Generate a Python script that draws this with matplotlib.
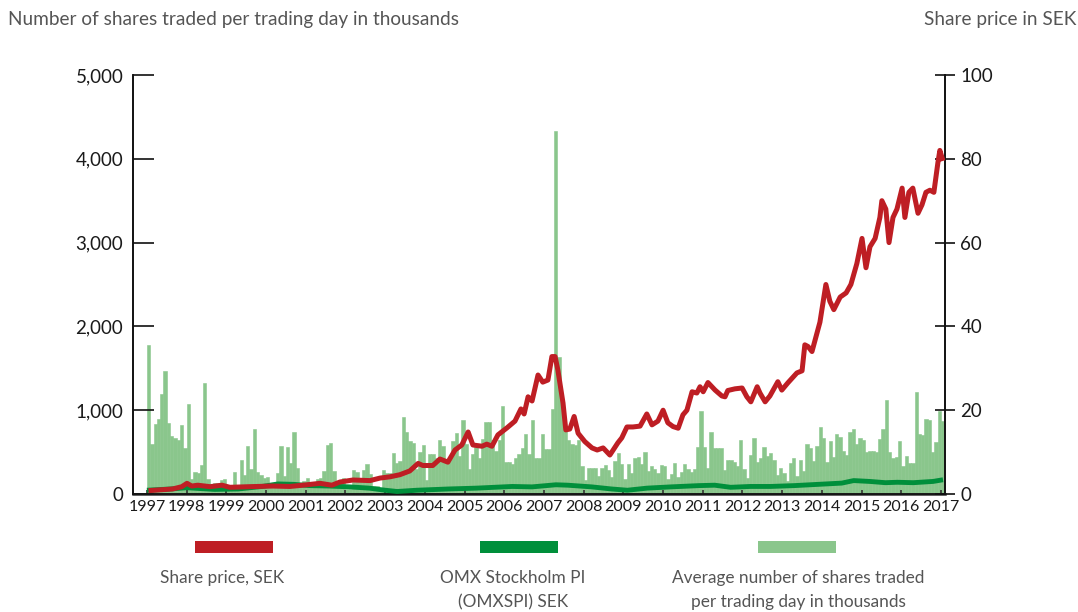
import matplotlib
matplotlib.use('Agg')
import matplotlib.pyplot as plt
import numpy as np
from matplotlib.patches import Rectangle

# ---------------- data ----------------
# Average number of shares traded per trading day (thousands), monthly from Jan 1997
volume = [
    1780, 597, 835, 895, 1193, 1467, 847, 692, 668, 648, 823, 549,
    1074, 179, 262, 250, 346, 1324, 179, 80, 131, 131, 167, 179,
    80, 100, 262, 108, 406, 227, 573, 298, 776, 262, 227, 191,
    203, 100, 119, 250, 573, 215, 561, 370, 740, 310, 125, 155,
    191, 119, 119, 179, 191, 274, 585, 609, 274, 119, 140, 191,
    60, 60, 290, 262, 167, 290, 358, 238, 95, 95, 60, 290,
    250, 250, 489, 370, 394, 919, 740, 632, 609, 300, 501, 585,
    167, 477, 477, 430, 644, 573, 420, 420, 632, 728, 453, 883,
    597, 298, 477, 561, 430, 656, 859, 859, 644, 513, 644, 1050,
    382, 382, 358, 430, 477, 549, 716, 477, 883, 430, 430, 716,
    537, 537, 1014, 4330, 1634, 1121, 776, 650, 600, 585, 644, 334,
    167, 310, 310, 310, 215, 310, 346, 286, 203, 394, 489, 358,
    179, 358, 250, 430, 441, 358, 501, 274, 334, 300, 250, 346,
    334, 179, 238, 370, 203, 262, 358, 298, 262, 298, 561, 990,
    561, 310, 740, 549, 549, 549, 286, 406, 406, 382, 334, 644,
    298, 191, 465, 668, 382, 430, 561, 453, 489, 406, 227, 310,
    250, 155, 370, 430, 215, 406, 274, 597, 549, 394, 573, 799,
    668, 382, 632, 441, 716, 680, 513, 465, 740, 776, 597, 668,
    644, 501, 513, 513, 501, 656, 776, 1121, 501, 430, 441, 632,
    334, 453, 370, 370, 1217, 720, 708, 895, 883, 501, 620, 990,
    871,
]

# Share price, SEK (right axis)
price_years = [
    1997.04, 1997.65, 1997.88, 1998.01, 1998.13, 1998.28, 1998.59, 1998.89,
    1999.09, 1999.59, 2000.17, 2000.60, 2000.93, 2001.36, 2001.66, 2001.86,
    2002.19, 2002.62, 2002.87, 2003.12, 2003.37, 2003.62, 2003.83, 2003.95,
    2004.20, 2004.38, 2004.58, 2004.76, 2004.93, 2005.09, 2005.21, 2005.44,
    2005.56, 2005.69, 2005.84, 2006.07, 2006.27, 2006.42, 2006.50, 2006.60,
    2006.70, 2006.85, 2006.97, 2007.10, 2007.20, 2007.28, 2007.35, 2007.48,
    2007.55, 2007.65, 2007.76, 2007.86, 2008.03, 2008.21, 2008.34, 2008.49,
    2008.66, 2008.86, 2008.96, 2009.09, 2009.24, 2009.42, 2009.59, 2009.72,
    2009.87, 2010.00, 2010.12, 2010.25, 2010.38, 2010.50, 2010.60, 2010.73,
    2010.85, 2010.93, 2011.01, 2011.13, 2011.31, 2011.48, 2011.56, 2011.63,
    2011.81, 2011.99, 2012.11, 2012.21, 2012.37, 2012.44, 2012.57, 2012.69,
    2012.89, 2012.99, 2013.14, 2013.37, 2013.50, 2013.57, 2013.65, 2013.75,
    2013.83, 2013.95, 2014.10, 2014.20, 2014.30, 2014.46, 2014.61, 2014.73,
    2014.88, 2015.01, 2015.11, 2015.21, 2015.34, 2015.46, 2015.51, 2015.61,
    2015.69, 2015.79, 2015.89, 2016.02, 2016.09, 2016.19, 2016.29, 2016.42,
    2016.52, 2016.62, 2016.72, 2016.82, 2016.92, 2016.97, 2017.05,
]
price_values = [
    0.8, 1.2, 1.75, 2.55, 1.9, 2.1, 1.75, 2.1,
    1.6, 1.75, 1.9, 1.8, 2.1, 2.55, 2.1, 2.86,
    3.34, 3.2, 3.8, 4.1, 4.6, 5.5, 7.3, 6.8,
    6.8, 8.35, 7.6, 10.5, 11.7, 14.8, 11.7, 11.4,
    11.9, 11.4, 14.1, 15.8, 17.4, 20.3, 19.1, 23.2,
    22.2, 28.4, 26.7, 27.2, 32.8, 32.8, 29.6, 21.7,
    15.3, 15.5, 18.5, 14.5, 12.5, 11.0, 10.5, 11.0,
    9.3, 12.2, 13.4, 16.0, 16.0, 16.2, 19.1, 16.5,
    17.4, 20.0, 17.0, 16.1, 15.7, 18.9, 20.0, 24.4,
    24.1, 25.6, 24.4, 26.6, 24.8, 23.4, 23.2, 24.7,
    25.1, 25.3, 23.2, 22.0, 25.6, 24.1, 22.0, 23.4,
    26.8, 24.8, 26.5, 28.9, 29.4, 35.6, 35.2, 34.0,
    36.8, 41.0, 50.0, 46.0, 44.0, 47.0, 48.0, 50.0,
    55.0, 61.0, 54.0, 59.0, 61.0, 66.0, 70.0, 68.0,
    60.0, 66.0, 68.0, 73.0, 66.0, 72.0, 73.0, 67.0,
    69.0, 72.0, 72.5, 72.0, 79.0, 82.0, 79.5,
]

# OMX Stockholm PI (OMXSPI), rescaled onto right axis
omx_years = [
    1997.00, 1997.60, 1998.00, 1998.70, 1999.30, 1999.90, 2000.30, 2000.70,
    2001.10, 2001.60, 2002.10, 2002.60, 2003.00, 2003.30, 2003.80, 2004.60,
    2005.30, 2006.20, 2006.70, 2007.30, 2007.60, 2008.20, 2008.70, 2009.10,
    2009.60, 2010.20, 2010.90, 2011.30, 2011.70, 2012.20, 2012.70, 2013.30,
    2013.90, 2014.50, 2014.80, 2015.20, 2015.60, 2015.90, 2016.30, 2016.80,
    2017.05,
]
omx_values = [
    0.9, 1.2, 1.5, 1.1, 1.2, 1.8, 2.4, 2.3,
    2.0, 1.9, 1.7, 1.4, 0.9, 0.6, 0.9, 1.2,
    1.4, 1.8, 1.7, 2.2, 2.1, 1.7, 1.2, 0.9,
    1.4, 1.7, 2.0, 2.1, 1.6, 1.8, 1.8, 2.0,
    2.3, 2.6, 3.2, 3.0, 2.7, 2.8, 2.7, 3.0,
    3.4,
]

year_ticks = list(range(1997, 2018))
left_ticks = [0, 1000, 2000, 3000, 4000, 5000]
left_labels = ['0', '1,000', '2,000', '3,000', '4,000', '5,000']
right_ticks = [0, 20, 40, 60, 80, 100]

legend_labels = [
    ['Share price, SEK'],
    ['OMX Stockholm PI', '(OMXSPI) SEK'],
    ['Average number of shares traded', 'per trading day in thousands'],
]

# ---------------- style ----------------
RED = '#BE1E24'
GREEN = '#008F3B'
LIGHT = '#8AC68C'
TXT = '#555555'
plt.rcParams['font.family'] = ['Lato', 'DejaVu Sans']

W, H = 1078, 612
fig = plt.figure(figsize=(W / 100, H / 100), dpi=100)
ax = fig.add_axes([133 / W, (H - 494) / H, (945 - 133) / W, (494 - 75) / H])

months = 1997 + np.arange(len(volume)) / 12.0
ax.bar(months, volume, width=1 / 12.0, align='edge', color=LIGHT,
       edgecolor=LIGHT, linewidth=0.4, zorder=1)
ax.set_ylim(0, 5000)
ax.set_xlim(1996.65, 2017.10)

ax2 = ax.twinx()
ax2.set_ylim(0, 100)
ax2.plot(omx_years, omx_values, color=GREEN, lw=3.5, solid_capstyle='butt',
         solid_joinstyle='round', zorder=3)
ax2.plot(price_years, price_values, color=RED, lw=3.6, solid_capstyle='butt',
         solid_joinstyle='round', zorder=4)

for a in (ax, ax2):
    a.spines['top'].set_visible(False)
    for s in ('left', 'right', 'bottom'):
        a.spines[s].set_color('#111111')
        a.spines[s].set_linewidth(1.2)
ax.spines['bottom'].set_linewidth(1.8)
ax.spines['bottom'].set_color('#333333')

ax.set_yticks(left_ticks)
ax.set_yticklabels(left_labels)
ax.tick_params(axis='y', direction='in', length=15, width=1.2, color='#111111',
               labelsize=13.5, pad=7, labelcolor='#1a1a1a')
ax2.set_yticks(right_ticks)
ax2.tick_params(axis='y', direction='inout', length=14, width=1.2,
                color='#111111', labelsize=13.5, pad=4, labelcolor='#1a1a1a')

ax.set_xticks(year_ticks)
ax.set_xticklabels([str(y) for y in year_ticks])
ax.tick_params(axis='x', direction='in', length=3, width=1.2, color='#333333',
               labelsize=11.5, pad=4, labelcolor='#1a1a1a')

# axis titles
fig.text(8 / W, 1 - 20 / H, 'Number of shares traded per trading day in thousands',
         ha='left', va='center', fontsize=13.7, color=TXT)
fig.text(1076 / W, 1 - 20 / H, 'Share price in SEK',
         ha='right', va='center', fontsize=13.7, color=TXT)

# legend
rects = [(195, RED), (480, GREEN), (758, LIGHT)]
text_centers = [222, 513, 798]
for (x0, col), xc, lines in zip(rects, text_centers, legend_labels):
    fig.add_artist(Rectangle((x0 / W, 1 - 553 / H), 78 / W, 12 / H,
                             transform=fig.transFigure, color=col, lw=0))
    for i, line in enumerate(lines):
        fig.text(xc / W, 1 - (578 + 24 * i) / H, line, ha='center', va='center',
                 fontsize=12.4, color=TXT)

fig.savefig('out.png', dpi=100)
